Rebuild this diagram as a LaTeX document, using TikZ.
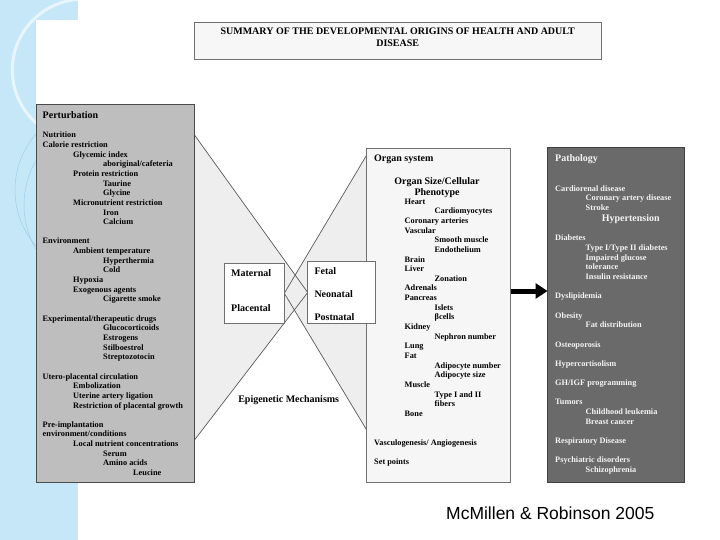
\documentclass[tikz,border=0pt]{standalone}
\usepackage{fontspec}
\setmainfont{Liberation Serif}
\newfontfamily\creditfont{Liberation Sans}
\usetikzlibrary{arrows.meta}
\pgfdeclarelayer{bg}
\pgfsetlayers{bg,main}

\definecolor{bluebg}{HTML}{C6E7F8}
\definecolor{bluearc}{HTML}{9FCFE8}
\definecolor{pertfill}{HTML}{BEBEBE}
\definecolor{titlefill}{HTML}{F7F7F7}
\definecolor{organfill}{HTML}{F6F6F6}
\definecolor{fanfill}{HTML}{EEEEEE}
\definecolor{pathofill}{HTML}{6A6A6A}
\definecolor{pathtext}{HTML}{F4F4F4}
\definecolor{edgemid}{HTML}{707070}
\definecolor{edgedark}{HTML}{4A4A4A}

\newcommand\LvZ{\strut}
\newcommand\LvA[1]{\strut\textbf{#1}}
\newcommand\LvB[1]{\strut\hspace*{30.5pt}\textbf{#1}}
\newcommand\LvC[1]{\strut\hspace*{60.5pt}\textbf{#1}}
\newcommand\LvD[1]{\strut\hspace*{90.5pt}\textbf{#1}}

\tikzset{
  panel/.style={inner sep=0pt, outer sep=0pt, anchor=north west},
  pertbox/.style={panel, draw=edgedark, line width=1pt, fill=pertfill},
  titlebox/.style={panel, draw=edgemid, line width=0.8pt, fill=titlefill},
  organbox/.style={panel, draw=edgemid, line width=0.8pt, fill=organfill},
  pathobox/.style={panel, draw=black!75, line width=1pt, fill=pathofill},
  smallbox/.style={panel, draw=edgemid, line width=0.8pt, fill=white},
  hd/.style={inner sep=0pt, anchor=base west, font=\bfseries\fontsize{10}{12}\selectfont},
  bodytext/.style={inner sep=0pt, anchor=north west, align=left,
    font=\bfseries\fontsize{8.3}{9.65}\selectfont},
  titletext/.style={inner sep=0pt, align=center, font=\bfseries\fontsize{10}{11.6}\selectfont},
  fanline/.style={draw=black!65, line width=0.7pt},
  bigarrow/.style={line width=5pt, -{Triangle[length=12pt,width=15pt]}},
  credit/.style={inner sep=0pt, anchor=base west, font=\creditfont\fontsize{17.5}{20}\selectfont}
}

\begin{document}
\begin{tikzpicture}[x=1pt,y=-1pt]
\useasboundingbox (0,0) rectangle (720,540);

% ---------- boxes ----------
\node[titlebox, minimum width=406.5pt, minimum height=37pt] (titlebox) at (194.5,22) {};
\node[pertbox, minimum width=158.5pt, minimum height=377.5pt] (pert) at (36,104.5) {};
\node[organbox, minimum width=144pt, minimum height=334pt] (organ) at (366.7,148) {};
\node[pathobox, minimum width=136.5pt, minimum height=334pt] (patho) at (547.5,148) {};
\node[smallbox, minimum width=60pt, minimum height=60pt] (matbox) at (224.3,263.3) {};
\node[smallbox, minimum width=67.3pt, minimum height=61.6pt] (fetbox) at (307.7,261.7) {};

% ---------- fan end points ----------
\coordinate (lt) at (194.5,135);
\coordinate (lb) at (194.5,440);
\coordinate (rt) at (366.7,155);
\coordinate (rb) at (366.7,430);
\coordinate (arrowlevel) at (0,291);

\begin{pgfonlayer}{bg}
  \fill[white] (0,0) rectangle (720,540);
  \fill[bluebg] (0,0) rectangle (78,540);
  \begin{scope}
    \clip (0,0) rectangle (78,540);
    \draw[white, opacity=0.6, line width=3pt] (83,70) circle[radius=70.7];
    \draw[bluearc, line width=0.5pt] (100,190) circle[radius=85];
    \draw[bluearc, line width=0.5pt] (112,205) circle[radius=88];
  \end{scope}
  \fill[white] (36,20) rectangle (720,482);
  \fill[fanfill] (lt) -- (fetbox.west) -- (lb) -- cycle;
  \fill[fanfill] (rt) -- (matbox.east) -- (rb) -- cycle;
  \draw[fanline] (lt) -- (fetbox.west);
  \draw[fanline] (lb) -- (fetbox.west);
  \draw[fanline] (rt) -- (matbox.east);
  \draw[fanline] (rb) -- (matbox.east);
\end{pgfonlayer}

% ---------- title ----------
\node[titletext] (title) at (397.7,37.5)
  {\textbf{SUMMARY OF THE DEVELOPMENTAL ORIGINS OF HEALTH AND ADULT}\\\textbf{DISEASE}};

% ---------- perturbation ----------
\node[hd] (perthd) at (42.5,118.6) {Perturbation};
\node[bodytext] (pertlist) at (42.5,130.85) {%
\LvA{Nutrition}\\
\LvA{Calorie restriction}\\
\LvB{Glycemic index}\\
\LvC{aboriginal/cafeteria}\\
\LvB{Protein restriction}\\
\LvC{Taurine}\\
\LvC{Glycine}\\
\LvB{Micronutrient restriction}\\
\LvC{Iron}\\
\LvC{Calcium}\\
\LvZ\\
\LvA{Environment}\\
\LvB{Ambient temperature}\\
\LvC{Hyperthermia}\\
\LvC{Cold}\\
\LvB{Hypoxia}\\
\LvB{Exogenous agents}\\
\LvC{Cigarette smoke}\\
\LvZ\\
\LvA{Experimental/therapeutic drugs}\\
\LvC{Glucocorticoids}\\
\LvC{Estrogens}\\
\LvC{Stilboestrol}\\
\LvC{Streptozotocin}\\
\LvZ\\
\LvA{Utero-placental circulation}\\
\LvB{Embolization}\\
\LvB{Uterine artery ligation}\\
\LvB{Restriction of placental growth}\\
\LvZ\\
\LvA{Pre-implantation}\\
\LvA{environment/conditions}\\
\LvB{Local nutrient concentrations}\\
\LvC{Serum}\\
\LvC{Amino acids}\\
\LvD{Leucine}};

% ---------- middle ----------
\node[hd] (mat) at (231,276.7) {Maternal};
\node[hd] (pla) at (231,311.7) {Placental};
\node[hd] (fet) at (314.3,274.4) {Fetal};
\node[hd] (neo) at (314.3,297.7) {Neonatal};
\node[hd] (post) at (314.3,320.7) {Postnatal};
\node[hd, anchor=base] (epi) at (288.7,402.4) {Epigenetic Mechanisms};

% ---------- organ system ----------
\node[hd] (orghd) at (374,161.4) {Organ system};
\node[inner sep=0pt, anchor=north, align=center, font=\bfseries\fontsize{10}{11.3}\selectfont]
  (orgsub) at (437,176.2) {\strut\textbf{Organ Size/Cellular}\\\strut\textbf{Phenotype}};
\node[bodytext] (orglist) at (374,197.15) {%
\LvB{Heart}\\
\LvC{Cardiomyocytes}\\
\LvB{Coronary arteries}\\
\LvB{Vascular}\\
\LvC{Smooth muscle}\\
\LvC{Endothelium}\\
\LvB{Brain}\\
\LvB{Liver}\\
\LvC{Zonation}\\
\LvB{Adrenals}\\
\LvB{Pancreas}\\
\LvC{Islets}\\
\LvC{βcells}\\
\LvB{Kidney}\\
\LvC{Nephron number}\\
\LvB{Lung}\\
\LvB{Fat}\\
\LvC{Adipocyte number}\\
\LvC{Adipocyte size}\\
\LvB{Muscle}\\
\LvC{Type I and II}\\
\LvC{fibers}\\
\LvB{Bone}\\
\LvZ\\
\LvZ\\
\LvA{Vasculogenesis/ Angiogenesis}\\
\LvZ\\
\LvA{Set points}};

% ---------- pathology ----------
\node[hd, text=pathtext] (pathhd) at (555,161.7) {Pathology};
\node[bodytext, text=pathtext] (pathlistA) at (555,184.15) {%
\LvA{Cardiorenal disease}\\
\LvB{Coronary artery disease}\\
\LvB{Stroke}};
\node[hd, text=pathtext] (hyper) at (601.7,221.7) {Hypertension};
\node[bodytext, text=pathtext] (pathlistB) at (555,233.95) {%
\LvA{Diabetes}\\
\LvB{Type I/Type II diabetes}\\
\LvB{Impaired glucose}\\
\LvB{tolerance}\\
\LvB{Insulin resistance}\\
\LvZ\\
\LvA{Dyslipidemia}\\
\LvZ\\
\LvA{Obesity}\\
\LvB{Fat distribution}\\
\LvZ\\
\LvA{Osteoporosis}\\
\LvZ\\
\LvA{Hypercortisolism}\\
\LvZ\\
\LvA{GH/IGF programming}\\
\LvZ\\
\LvA{Tumors}\\
\LvB{Childhood leukemia}\\
\LvB{Breast cancer}\\
\LvZ\\
\LvA{Respiratory Disease}\\
\LvZ\\
\LvA{Psychiatric disorders}\\
\LvB{Schizophrenia}};

% ---------- arrow ----------
\draw[bigarrow] (organ.east |- arrowlevel) -- (patho.west |- arrowlevel);

% ---------- credit ----------
\node[credit] (credit) at (446,519.5) {McMillen \& Robinson 2005};
\end{tikzpicture}
\end{document}
